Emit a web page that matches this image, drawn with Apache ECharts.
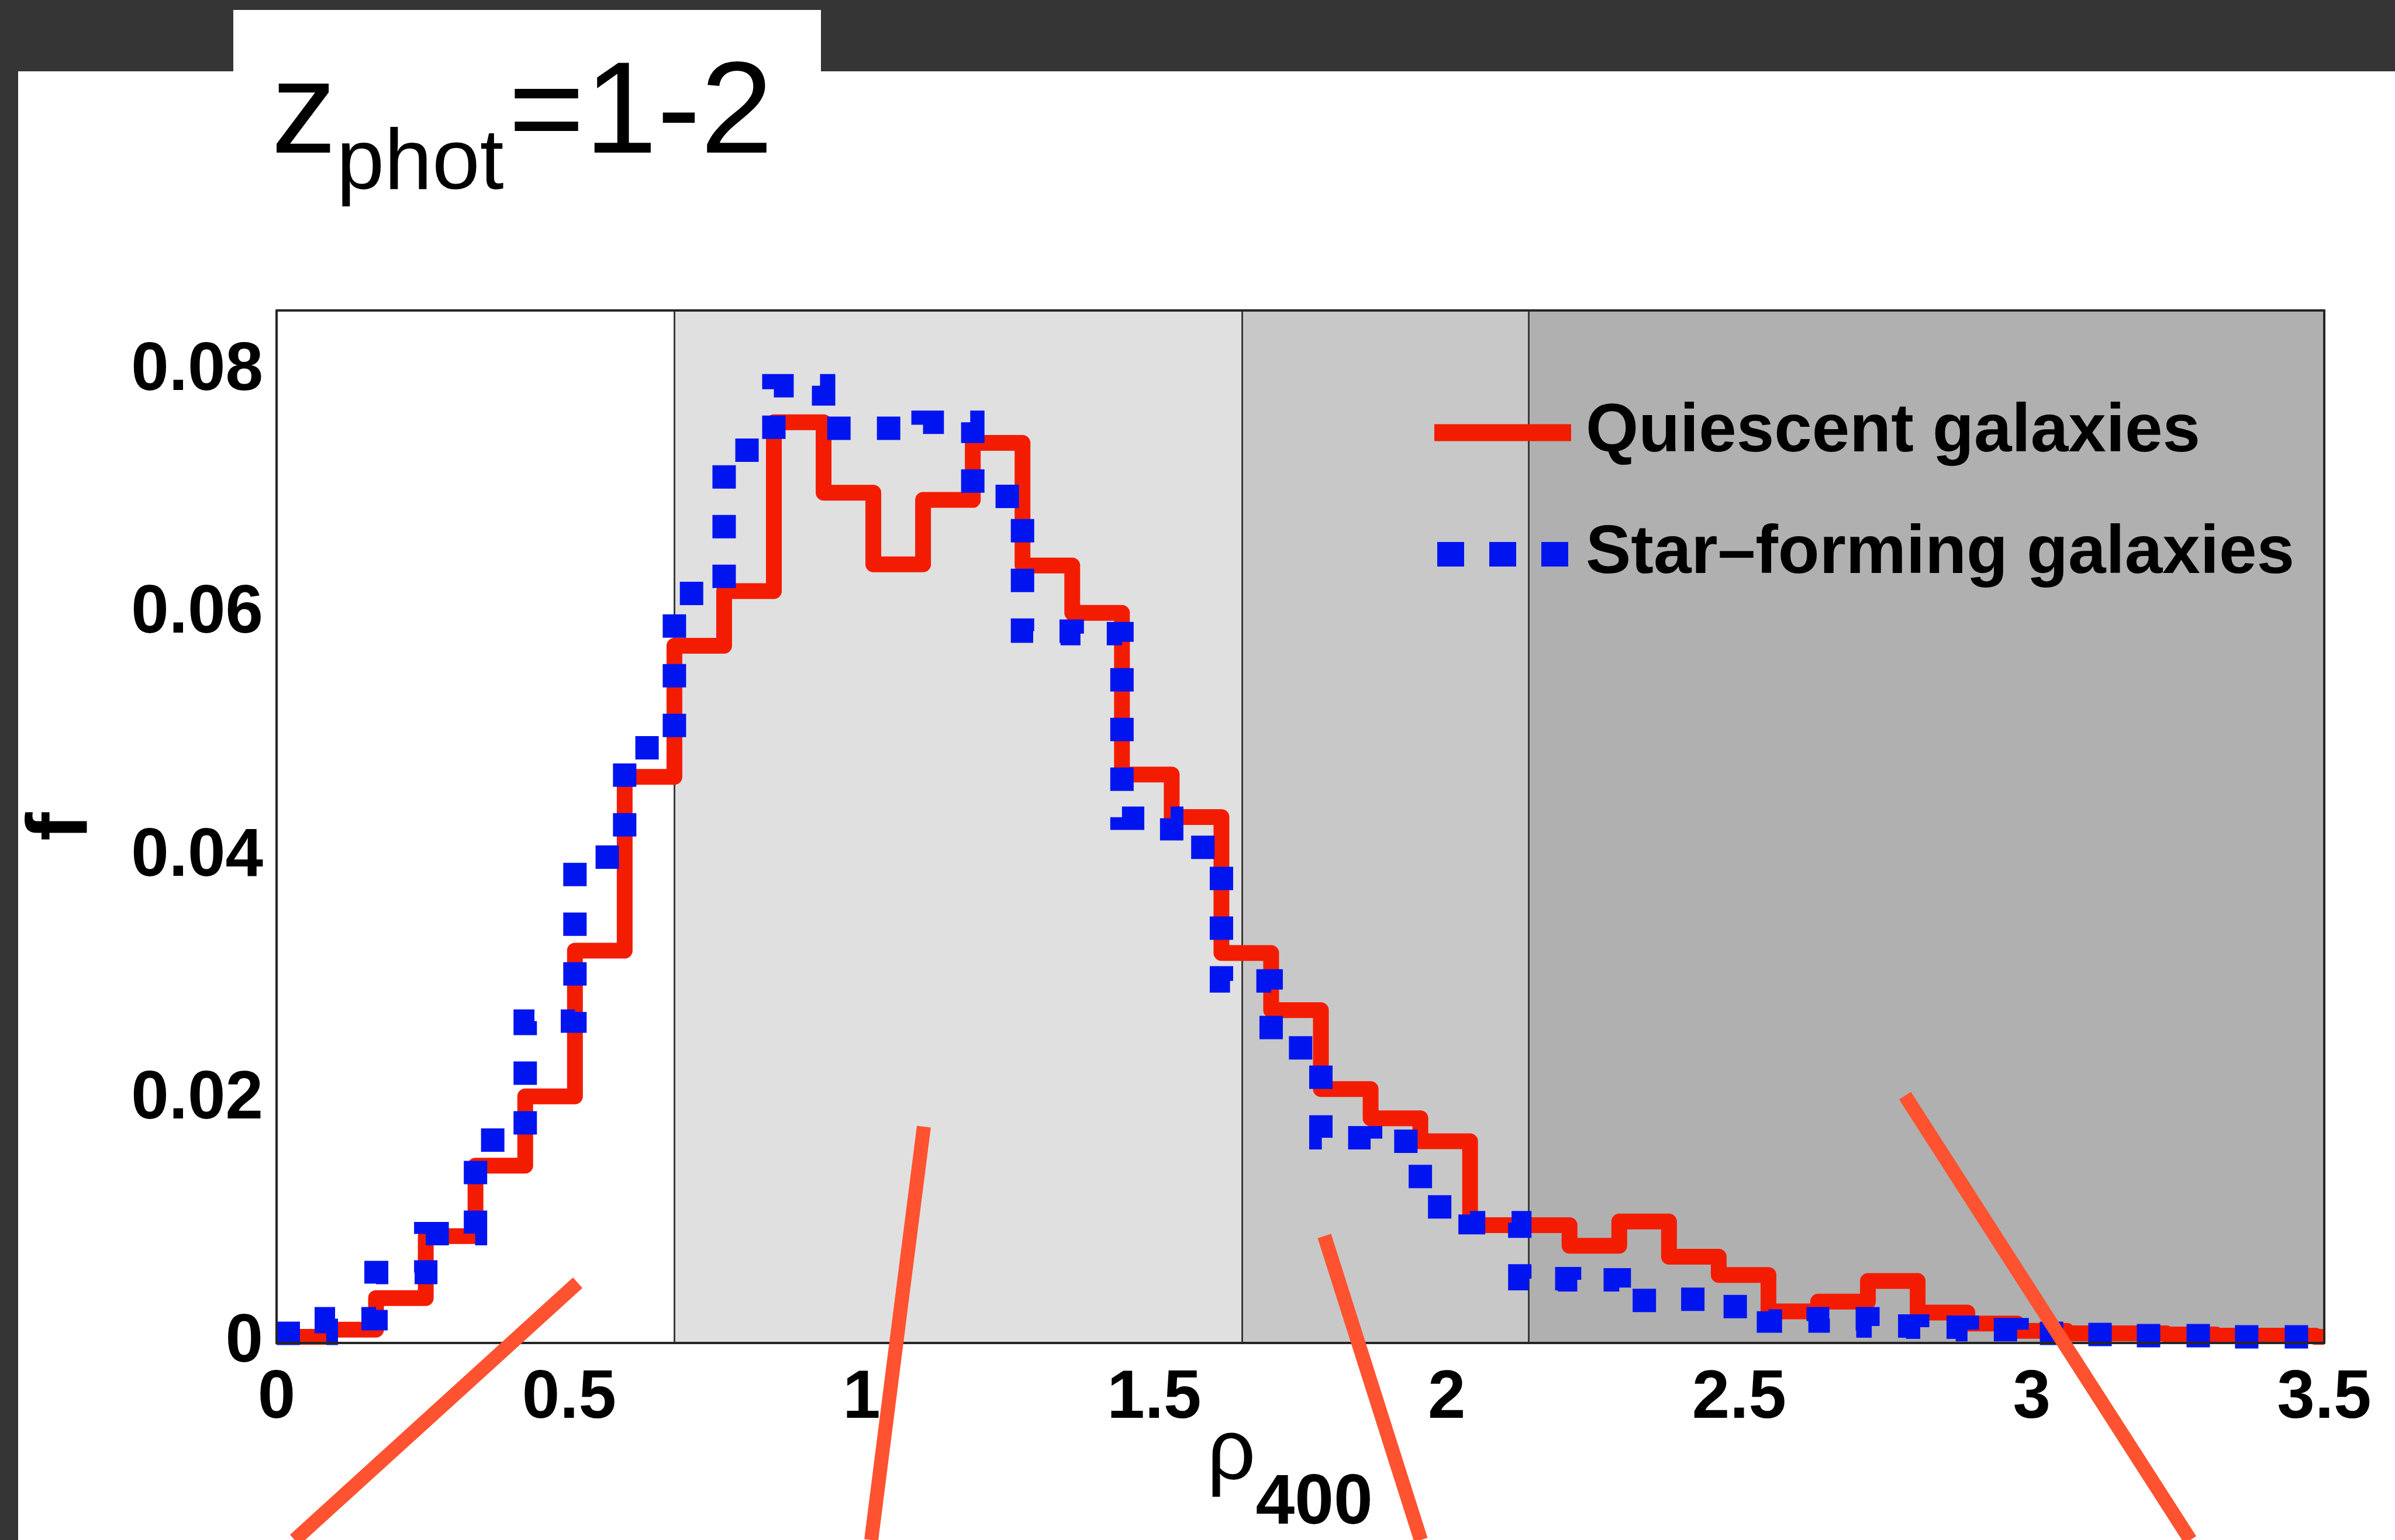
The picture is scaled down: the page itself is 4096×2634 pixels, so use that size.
<!DOCTYPE html>
<html><head><meta charset="utf-8">
<script src="https://cdn.jsdelivr.net/npm/echarts@6/dist/echarts.min.js"></script>
<style>html,body{margin:0;padding:0;background:#353535;overflow:hidden}#c{width:4096px;height:2634px}</style>
</head><body><div id="c"></div>
<script>
// ---- data ----
const binEdges = [0, 0.085, 0.17, 0.255, 0.34, 0.425, 0.51, 0.595, 0.68, 0.765, 0.85, 0.935, 1.02, 1.105, 1.19, 1.275, 1.36, 1.445, 1.53, 1.615, 1.7, 1.785, 1.87, 1.955, 2.04, 2.125, 2.21, 2.295, 2.38, 2.465, 2.55, 2.635, 2.72, 2.805, 2.89, 2.975, 3.06, 3.145, 3.23, 3.315, 3.4, 3.485];
const xEnd = 3.5;
const quiescent = [0.0005, 0.0011, 0.0037, 0.0088, 0.0146, 0.0203, 0.0323, 0.0466, 0.0574, 0.0619, 0.0758, 0.0700, 0.0641, 0.0694, 0.0741, 0.0640, 0.0601, 0.0468, 0.0433, 0.0321, 0.0274, 0.0209, 0.0185, 0.0166, 0.0097, 0.0097, 0.0080, 0.0100, 0.0071, 0.0056, 0.0026, 0.0034, 0.0051, 0.0025, 0.0016, 0.0010, 0.0008, 0.0008, 0.0007, 0.0006, 0.0006, 0.0005];
const starForming = [0.0008, 0.0020, 0.0058, 0.0090, 0.0167, 0.0265, 0.0400, 0.0490, 0.0617, 0.0735, 0.0788, 0.0753, 0.0753, 0.0758, 0.0697, 0.0586, 0.0584, 0.0432, 0.0408, 0.0298, 0.0243, 0.0169, 0.0166, 0.0112, 0.0099, 0.0053, 0.0052, 0.0035, 0.0036, 0.0030, 0.0018, 0.0020, 0.0014, 0.0013, 0.0011, 0.0008, 0.0007, 0.0006, 0.0006, 0.0005, 0.0005, 0.0005];
const regionBounds = [0, 0.68, 1.65, 2.14, 3.5];
const seriesNames = ['Quiescent galaxies', 'Star\u2013forming galaxies'];
const titleText = ['z', 'phot', '=1-2'];
const xName = ['\u03c1', '400'];
const yName = 'f';

// ---- styles ----
const FONT = '"Liberation Sans", Arial, Helvetica, sans-serif';
const RED = '#f41c00';
const BLUE = '#0014f0';
const ORANGE = '#ff5230';
const regionFills = ['#ffffff', '#e0e0e0', '#c8c8c8', '#b0b0b0'];

function stepData(vals) {
  const d = binEdges.map((x, i) => [x, vals[i]]);
  d.push([xEnd, vals[vals.length - 1]]);
  return d;
}

const areas = [];
for (let i = 0; i < regionBounds.length - 1; i++) {
  areas.push([{ xAxis: regionBounds[i], itemStyle: { color: regionFills[i] } }, { xAxis: regionBounds[i + 1] }]);
}
const vlines = regionBounds.slice(1, -1).map(v => ({ xAxis: v }));

const chart = echarts.init(document.getElementById('c'), null, { renderer: 'canvas' });
const frameAxis = { show: true, onZero: false, lineStyle: { color: '#262626', width: 4 } };

chart.setOption({
  animation: false,
  backgroundColor: '#353535',
  title: {
    text: '{a|' + titleText[0] + '}{b|' + titleText[1] + '}{c|' + titleText[2] + '}',
    left: 464, top: 88, padding: 0,
    textStyle: {
      fontWeight: 'normal',
      rich: {
        a: { fontFamily: FONT, fontWeight: 'normal', fontSize: 223, lineHeight: 223, verticalAlign: 'top', color: '#000' },
        b: { fontFamily: FONT, fontWeight: 'normal', fontSize: 147, lineHeight: 147, verticalAlign: 'top', padding: [121, 0, 0, 0], color: '#000' },
        c: { fontFamily: FONT, fontWeight: 'normal', fontSize: 223, lineHeight: 223, verticalAlign: 'top', padding: [0, 0, 0, 8], color: '#000' }
      }
    }
  },
  graphic: [
    { type: 'rect', z: -10, shape: { x: 31, y: 122, width: 4065, height: 2512 }, style: { fill: '#ffffff' } },
    { type: 'rect', z: -10, shape: { x: 399, y: 17, width: 1005, height: 106 }, style: { fill: '#ffffff' } },
    { type: 'line', z: 100, shape: { x1: 988, y1: 2194, x2: 504, y2: 2634 }, style: { stroke: ORANGE, lineWidth: 24 } },
    { type: 'line', z: 100, shape: { x1: 1580, y1: 1927, x2: 1490, y2: 2634 }, style: { stroke: ORANGE, lineWidth: 24 } },
    { type: 'line', z: 100, shape: { x1: 2265, y1: 2114, x2: 2430, y2: 2634 }, style: { stroke: ORANGE, lineWidth: 24 } },
    { type: 'line', z: 100, shape: { x1: 3258, y1: 1874, x2: 3746, y2: 2634 }, style: { stroke: ORANGE, lineWidth: 24 } }
  ],
  grid: { left: 473, right: 121, top: 531, bottom: 337, containLabel: false, outerBoundsMode: 'none' },
  legend: {
    left: 2453, top: 682, padding: 0, orient: 'vertical',
    itemWidth: 234, itemHeight: 42, itemGap: 92, selectedMode: false,
    itemStyle: { borderWidth: 0 },
    textStyle: { fontFamily: FONT, fontSize: 116, fontWeight: 'bold', color: '#000', lineHeight: 116, padding: [0, 0, 0, 20] },
    data: [
      { name: seriesNames[0], icon: 'path://M0,0H234V29H0Z', itemStyle: { color: RED, borderWidth: 0 } },
      { name: seriesNames[1], icon: 'path://M0,0h46v42h-46z M89,0h46v42h-46z M178,0h46v42h-46z', itemStyle: { color: BLUE, borderWidth: 0 } }
    ]
  },
  xAxis: [
    {
      type: 'value', min: 0, max: 3.5, interval: 0.5, z: 10,
      axisLine: frameAxis, axisTick: { show: false }, splitLine: { show: false },
      axisLabel: { margin: 38, fontFamily: FONT, fontSize: 116, fontWeight: 'bold', color: '#000' },
      name: '{r|' + xName[0] + '}{s|' + xName[1] + '}', nameLocation: 'middle', nameGap: 120,
      nameMoveOverlap: false,
      nameTextStyle: {
        padding: [0, 36, 0, 0],
        rich: {
          r: { fontFamily: FONT, fontSize: 146, lineHeight: 146, verticalAlign: 'top', color: '#000' },
          s: { fontFamily: FONT, fontSize: 120, fontWeight: 'bold', lineHeight: 120, verticalAlign: 'top', padding: [96, 0, 0, 0], color: '#000' }
        }
      }
    },
    {
      type: 'value', position: 'top', min: 0, max: 3.5, interval: 0.5, z: 10,
      axisLine: frameAxis, axisTick: { show: false }, splitLine: { show: false }, axisLabel: { show: false }
    }
  ],
  yAxis: [
    {
      type: 'value', min: 0, max: 0.085, interval: 0.02, z: 10,
      axisLine: frameAxis, axisTick: { show: false }, splitLine: { show: false },
      axisLabel: { margin: 23, showMaxLabel: false, fontFamily: FONT, fontSize: 116, fontWeight: 'bold', color: '#000' },
      name: yName, nameLocation: 'middle', nameGap: 292, nameMoveOverlap: false,
      nameTextStyle: { fontFamily: FONT, fontSize: 146, fontWeight: 'bold', color: '#000' }
    },
    {
      type: 'value', position: 'right', min: 0, max: 0.085, interval: 0.02, z: 10,
      axisLine: frameAxis, axisTick: { show: false }, splitLine: { show: false }, axisLabel: { show: false }
    }
  ],
  series: [
    {
      name: 'regions', type: 'line', z: 1, data: [[0, 0]], symbol: 'none', silent: true,
      lineStyle: { width: 0, opacity: 0 },
      markArea: { silent: true, z: 1, data: areas },
      markLine: { silent: true, z: 2, symbol: ['none', 'none'], label: { show: false },
        lineStyle: { color: '#3a3a3a', width: 3, type: 'solid' }, data: vlines }
    },
    {
      name: seriesNames[0], type: 'line', z: 6, step: 'end', symbol: 'none', data: stepData(quiescent),
      itemStyle: { color: RED },
      lineStyle: { color: RED, width: 27, join: 'round', cap: 'butt' }
    },
    {
      name: seriesNames[1], type: 'line', z: 7, step: 'end', symbol: 'none', data: stepData(starForming),
      itemStyle: { color: BLUE },
      lineStyle: { color: BLUE, width: 40, type: [40, 45], cap: 'butt', join: 'miter' }
    }
  ]
});
</script>
</body></html>
